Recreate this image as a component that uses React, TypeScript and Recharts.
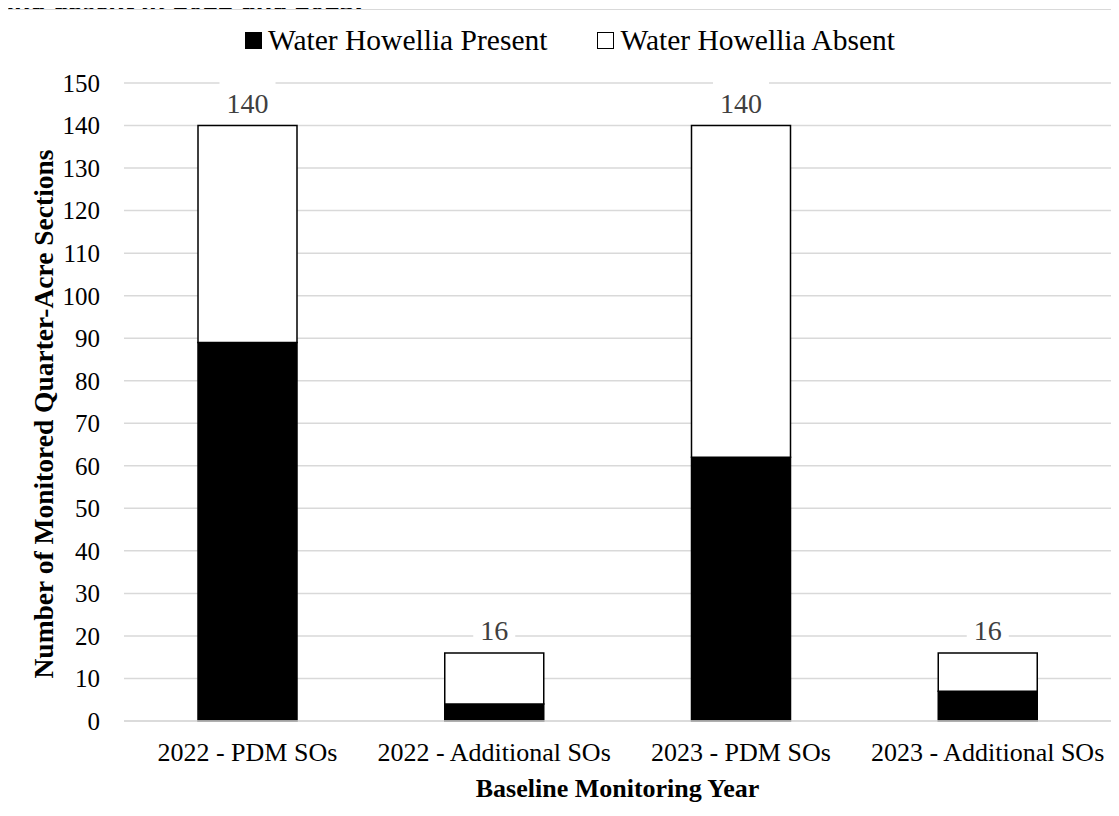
import React from "react";
import { Bar, BarChart, CartesianGrid, Label, LabelList, XAxis, YAxis } from "recharts";

const categories = ["2022 - PDM SOs", "2022 - Additional SOs", "2023 - PDM SOs", "2023 - Additional SOs"];
const present = [89, 4, 62, 7];
const absent = [51, 12, 78, 9];
const totals = [140, 16, 140, 16];
const yTicks = [0, 10, 20, 30, 40, 50, 60, 70, 80, 90, 100, 110, 120, 130, 140, 150];

const data = categories.map((name, i) => ({
  name,
  present: present[i],
  absent: absent[i],
  total: totals[i],
}));

const FONT = "'Liberation Serif', 'Times New Roman', serif";

const TotalLabel = (props: any) => {
  const { x, y, width, value } = props;
  const cx = x + width / 2;
  const base = y - 13;
  const tw = String(value).length * 14;
  return (
    <g>
      <rect x={cx - tw / 2 - 7} y={base - 31} width={tw + 14} height={37} fill="#fff" />
      <text x={cx} y={base} textAnchor="middle" fontSize={28} fontFamily={FONT} fill="#404040">
        {value}
      </text>
    </g>
  );
};

const YTitle = (props: any) => {
  const { viewBox } = props;
  const x = 45;
  const y = viewBox.y + viewBox.height / 2 + 12;
  return (
    <text
      x={x}
      y={y}
      transform={`rotate(-90, ${x}, ${y})`}
      textAnchor="middle"
      fontSize={27.5}
      fontWeight="bold"
      fontFamily={FONT}
      fill="#000"
    >
      Number of Monitored Quarter-Acre Sections
    </text>
  );
};

const XTitle = (props: any) => {
  const { viewBox } = props;
  return (
    <text
      x={viewBox.x + viewBox.width / 2}
      y={viewBox.y + 76}
      textAnchor="middle"
      fontSize={26}
      fontWeight="bold"
      fontFamily={FONT}
      fill="#000"
    >
      Baseline Monitoring Year
    </text>
  );
};

const swatch = (fill: string) => ({
  display: "inline-block",
  width: 15,
  height: 15,
  background: fill,
  border: "1px solid #000",
  marginRight: 6,
});

export default function App() {
  return (
    <div style={{ position: "relative", width: 1111, height: 800, fontFamily: FONT }}>
      <span
        style={{
          position: "absolute",
          left: -8,
          top: -23,
          fontSize: 30,
          lineHeight: "30px",
          fontWeight: "bold",
          fontStyle: "italic",
          whiteSpace: "nowrap",
          color: "#000",
        }}
      >
        and absent in 2022 and 2023.
      </span>
      <div
        style={{
          position: "absolute",
          left: -1,
          top: 1,
          width: 1112,
          height: 799,
          borderLeft: "1px solid #d9d9d9",
          borderTop: "1px solid #d9d9d9",
          boxSizing: "border-box",
        }}
      />
      <div
        style={{
          position: "absolute",
          left: 237,
          top: 18,
          display: "flex",
          alignItems: "center",
          fontSize: 29.5,
          lineHeight: "29.5px",
          color: "#000",
          whiteSpace: "nowrap",
        }}
      >
        <span style={swatch("#000")} />
        <span style={{ marginRight: 50 }}>Water Howellia Present</span>
        <span style={swatch("#fff")} />
        <span>Water Howellia Absent</span>
      </div>
      <div style={{ position: "absolute", left: 0, top: 0 }}>
        <BarChart width={1111} height={800} data={data} margin={{ top: 75, right: 8, left: 0, bottom: 0 }}>
          <CartesianGrid vertical={false} stroke="#d9d9d9" strokeWidth={1.5} />
          <XAxis
            dataKey="name"
            height={87}
            tickLine={false}
            tickSize={0}
            tickMargin={22}
            axisLine={{ stroke: "#d9d9d9", strokeWidth: 1.5 }}
            tick={{ fontSize: 26, fontFamily: FONT, fill: "#000" }}
            interval={0}
          >
            <Label content={XTitle} />
          </XAxis>
          <YAxis
            width={116}
            domain={[0, 150]}
            ticks={yTicks}
            interval={0}
            tickLine={false}
            axisLine={false}
            tickSize={0}
            tickMargin={24}
            tick={{ fontSize: 25, fontFamily: FONT, fill: "#000" }}
          >
            <Label content={YTitle} />
          </YAxis>
          <Bar dataKey="present" stackId="a" fill="#000" stroke="#000" strokeWidth={1.5} barSize={99} isAnimationActive={false} />
          <Bar dataKey="absent" stackId="a" fill="#fff" stroke="#000" strokeWidth={1.5} barSize={99} isAnimationActive={false}>
            <LabelList dataKey="total" content={TotalLabel} />
          </Bar>
        </BarChart>
      </div>
    </div>
  );
}
